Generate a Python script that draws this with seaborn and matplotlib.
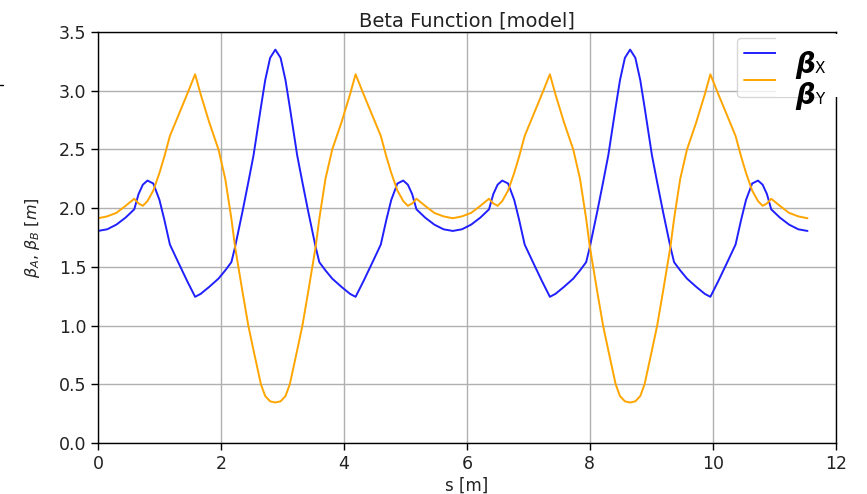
import numpy as np
import pandas as pd
import matplotlib
matplotlib.use('Agg')
import matplotlib.pyplot as plt
import seaborn as sns
from matplotlib.patches import Rectangle
from matplotlib.lines import Line2D

# position along the lattice [m]
s = [0.00, 0.15, 0.30, 0.45, 0.59, 0.66, 0.73, 0.805, 0.90, 1.00, 1.08, 1.17, 1.30, 1.45,
     1.58, 1.67, 1.81, 1.96, 2.07, 2.17, 2.23, 2.35, 2.445, 2.53, 2.65, 2.72, 2.80, 2.885,
     2.97, 3.05, 3.12, 3.24, 3.325, 3.42, 3.54, 3.60, 3.70, 3.81, 3.96, 4.10, 4.19, 4.32,
     4.47, 4.60, 4.69, 4.77, 4.87, 4.965, 5.04, 5.11, 5.18, 5.32, 5.47, 5.62, 5.77,
     5.92, 6.07, 6.22, 6.36, 6.43, 6.50, 6.575, 6.67, 6.77, 6.85, 6.94, 7.07, 7.22,
     7.35, 7.44, 7.58, 7.73, 7.84, 7.94, 8.00, 8.12, 8.215, 8.30, 8.42, 8.49, 8.57, 8.655,
     8.74, 8.82, 8.89, 9.01, 9.095, 9.19, 9.31, 9.37, 9.47, 9.58, 9.73, 9.87, 9.96, 10.09,
     10.24, 10.37, 10.46, 10.54, 10.64, 10.735, 10.81, 10.88, 10.95, 11.09, 11.24, 11.39, 11.54]

beta_x = [1.806, 1.82, 1.86, 1.92, 1.99, 2.12, 2.20, 2.235, 2.21, 2.07, 1.90, 1.69, 1.545, 1.38,
          1.245, 1.27, 1.33, 1.40, 1.47, 1.54, 1.67, 1.97, 2.22, 2.45, 2.86, 3.09, 3.28, 3.35,
          3.28, 3.09, 2.86, 2.45, 2.22, 1.97, 1.67, 1.54, 1.47, 1.40, 1.33, 1.27, 1.245, 1.38,
          1.545, 1.69, 1.90, 2.07, 2.21, 2.235, 2.20, 2.12, 1.99, 1.92, 1.86, 1.82, 1.806,
          1.82, 1.86, 1.92, 1.99, 2.12, 2.20, 2.235, 2.21, 2.07, 1.90, 1.69, 1.545, 1.38,
          1.245, 1.27, 1.33, 1.40, 1.47, 1.54, 1.67, 1.97, 2.22, 2.45, 2.86, 3.09, 3.28, 3.35,
          3.28, 3.09, 2.86, 2.45, 2.22, 1.97, 1.67, 1.54, 1.47, 1.40, 1.33, 1.27, 1.245, 1.38,
          1.545, 1.69, 1.90, 2.07, 2.21, 2.235, 2.20, 2.12, 1.99, 1.92, 1.86, 1.82, 1.806]

beta_y = [1.914, 1.93, 1.96, 2.02, 2.08, 2.04, 2.02, 2.06, 2.15, 2.30, 2.44, 2.615, 2.78, 2.97,
          3.14, 2.97, 2.73, 2.50, 2.25, 1.91, 1.67, 1.29, 1.00, 0.79, 0.50, 0.40, 0.355, 0.345,
          0.355, 0.40, 0.50, 0.79, 1.00, 1.29, 1.67, 1.91, 2.25, 2.50, 2.73, 2.97, 3.14, 2.97,
          2.78, 2.615, 2.44, 2.30, 2.15, 2.06, 2.02, 2.04, 2.08, 2.02, 1.96, 1.93, 1.914,
          1.93, 1.96, 2.02, 2.08, 2.04, 2.02, 2.06, 2.15, 2.30, 2.44, 2.615, 2.78, 2.97,
          3.14, 2.97, 2.73, 2.50, 2.25, 1.91, 1.67, 1.29, 1.00, 0.79, 0.50, 0.40, 0.355, 0.345,
          0.355, 0.40, 0.50, 0.79, 1.00, 1.29, 1.67, 1.91, 2.25, 2.50, 2.73, 2.97, 3.14, 2.97,
          2.78, 2.615, 2.44, 2.30, 2.15, 2.06, 2.02, 2.04, 2.08, 2.02, 1.96, 1.93, 1.914]

plane_names = ['X', 'Y']
plane_colors = {'X': '#2020ff', 'Y': '#ffa500'}

df = pd.DataFrame({
    's': s + s,
    'beta': beta_x + beta_y,
    'plane': ['X'] * len(s) + ['Y'] * len(s),
})

sns.set_theme(style='ticks')
plt.rcParams['font.family'] = ['DejaVu Sans']

fig = plt.figure(figsize=(8.67, 4.94), dpi=100)
ax = fig.add_axes([0.113, 0.1032, 0.851, 0.832])

sns.lineplot(data=df, x='s', y='beta', hue='plane', hue_order=plane_names,
             palette=plane_colors, linewidth=1.4, sort=False, ax=ax)

ax.set_xlim(0, 12)
ax.set_ylim(0, 3.5)
ax.set_xticks(np.arange(0, 13, 2))
ax.set_yticks(np.arange(0, 3.6, 0.5))
ax.grid(True, color='#b0b0b0', linewidth=1.0)
ax.tick_params(labelsize=12.5, length=5, width=1, color='black', labelcolor='#222222')
for sp in ax.spines.values():
    sp.set_color('black')
    sp.set_linewidth(1.0)

ax.set_title('Beta Function [model]', fontsize=14, color='#222222', pad=4)
ax.set_xlabel('s [m]', fontsize=12, color='#222222', labelpad=3)
ax.set_ylabel(r'$\beta_A$, $\beta_B$ [$m$]', fontsize=11.5, color='#222222', labelpad=12)

# legend box; the labels get covered by the bold beta labels
handles = [Line2D([0], [0], color=plane_colors[p], lw=1.4) for p in plane_names]
ax.legend(handles, ['   ', '   '], loc='upper left', fontsize=13,
          bbox_to_anchor=(737 / 867, 1 - 38 / 494), bbox_transform=fig.transFigure,
          borderaxespad=0, handlelength=2.0, frameon=True, edgecolor='#cccccc')

fig.add_artist(Rectangle((776 / 867, 1 - 97 / 494), 70 / 867, 63 / 494,
                         transform=fig.transFigure, facecolor='white',
                         edgecolor='none', zorder=10))
for lab, ypx in zip(plane_names, [73, 104]):
    fig.text(795 / 867, 1 - ypx / 494, 'β', fontsize=20, fontweight='bold',
             style='italic', color='black', zorder=11)
    fig.text(815 / 867, 1 - ypx / 494, lab, fontsize=11, color='black', zorder=11)

fig.add_artist(Line2D([0, 0.004], [1 - 85 / 494] * 2, color='black', lw=1,
                      transform=fig.transFigure))

plt.savefig('out.png', dpi=100)
